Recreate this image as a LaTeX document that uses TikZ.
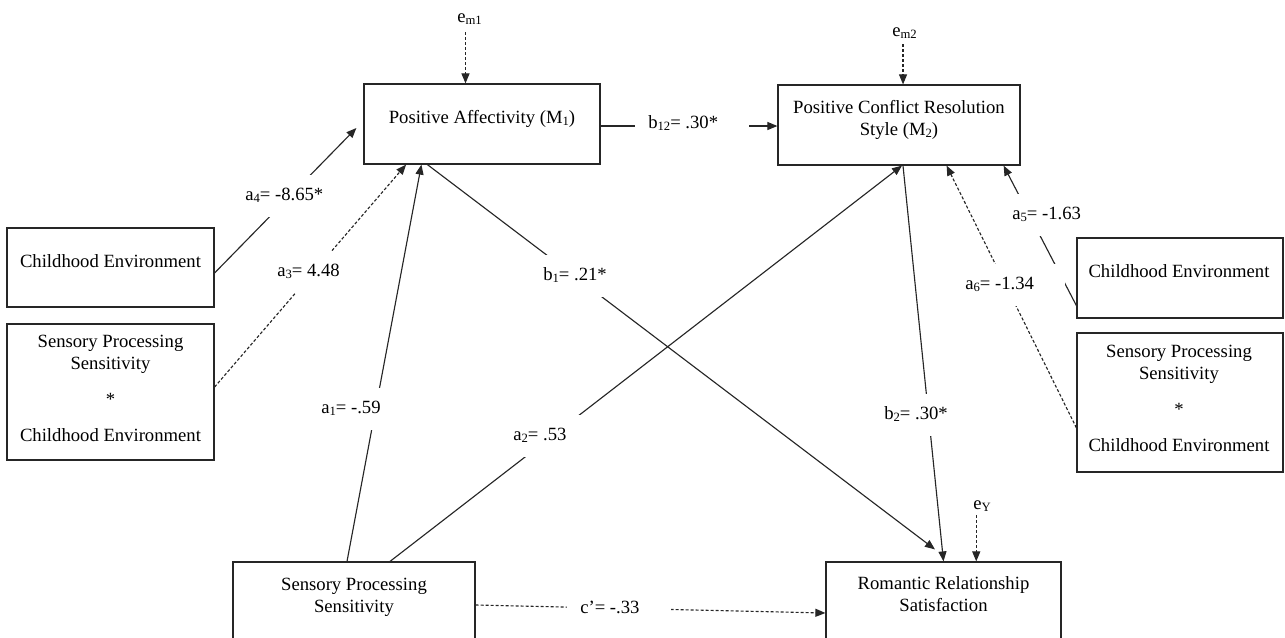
\documentclass[tikz,border=0pt]{standalone}
\usepackage{fontspec}
\setmainfont{Liberation Serif}
\usetikzlibrary{arrows.meta}
% small lowered index, as in M1, a4, e_m1
\newcommand\lowsub[1]{\raisebox{-1.6pt}{\fontsize{9.5}{10}\selectfont #1}}
% coefficient text with the white padding that breaks the path under it
\newcommand\coefpad[1]{\rule[-12.75pt]{0pt}{31.5pt}\hspace*{9.75pt}#1\hspace*{23.25pt}}
\begin{document}
\begin{tikzpicture}[x=0.75pt, y=-0.75pt,
  every node/.style={font=\fontsize{14}{16.5}\selectfont, inner sep=0pt},
  box/.style={draw=black!85, line width=0.9pt, minimum height=60pt},
  txt/.style={align=center},
  conn/.style={draw=black!85, line width=0.85pt},
  arr/.style={conn, -{Triangle[length=7.5pt,width=6pt]}},
  dsh/.style={dash pattern=on 2.25pt off 1.5pt},
  coef/.style={fill=white, anchor=base west}
]
\useasboundingbox (0,0) rectangle (1285,637);
\clip (0,0) rectangle (1285,637);

% variable boxes
\node[box, minimum width=177pt] (m1) at (482,124) {};
\node[box, minimum width=181.5pt] (m2) at (899,125) {};
\node[box, minimum width=155.25pt, minimum height=59.25pt] (cel) at (110.5,267.5) {};
\node[box, minimum width=155.25pt, minimum height=102pt] (scl) at (110.5,392) {};
\node[box, minimum width=154.5pt] (cer) at (1180,278) {};
\node[box, minimum width=154.5pt, minimum height=104.25pt] (scr) at (1180,402.5) {};
\node[box, minimum width=181.5pt] (sps) at (354,602) {};
\node[box, minimum width=176.25pt] (rrs) at (943.5,602) {};

% box texts
\node[anchor=base] (m1t) at (482,123) {Positive Affectivity (M\lowsub{1})};
\node[txt] (m2t) at (899,119.6) {Positive Conflict Resolution\\Style (M\lowsub{2})};
\node[anchor=base] (celt) at (110.5,267) {Childhood Environment};
\node[txt] (sclt) at (110.5,388.6) {Sensory Processing\\Sensitivity\\[10.5pt]*\\[10.5pt]Childhood Environment};
\node[anchor=base] (cert) at (1179,277) {Childhood Environment};
\node[txt] (scrt) at (1179,398.6) {Sensory Processing\\Sensitivity\\[10.5pt]*\\[10.5pt]Childhood Environment};
\node[txt] (spst) at (354,597.6) {Sensory Processing\\Sensitivity};
\node[txt] (rrst) at (943.5,594.6) {Romantic Relationship\\Satisfaction};

% error terms
\node[anchor=base west] (em1) at (457,22) {e\lowsub{m1}};
\node[anchor=base west] (em2) at (892,36) {e\lowsub{m2}};
\node[anchor=base west] (ey) at (973,509) {e\lowsub{Y}};
\draw[arr,dsh] ([xshift=-3pt,yshift=-6pt]em1.south) -- ([xshift=-3pt]em1.south |- m1.north);
\draw[arr,dsh] ([xshift=-1.1pt,yshift=-4.5pt]em2.south) -- ([xshift=-1.1pt]em2.south |- m2.north);
\draw[arr,dsh] ([xshift=-4.3pt,yshift=-3pt]ey.south) -- ([xshift=-4.3pt]ey.south |- rrs.north);

% paths
\draw[arr] ([yshift=-4.1pt]cel.east) -- ([xshift=-5.25pt,yshift=-3pt]m1.west);       % a4
\draw[arr,dsh] ([yshift=3.75pt]scl.east) -- ([xshift=32pt]m1.south west);             % a3
\draw[arr] ([xshift=-5.25pt]sps.north) -- ([xshift=43.5pt]m1.south west);             % a1
\draw[arr] ([xshift=27pt]sps.north) -- ([xshift=2.25pt]m2.south);                     % a2
\draw[arr] ([xshift=48pt]m1.south west) -- ([xshift=-6.4pt,yshift=9pt]rrs.north);     % b1
\draw[arr] ([yshift=-1.5pt]m1.east) -- ([yshift=-0.75pt]m2.west);                     % b12
\draw[arr] ([xshift=3pt]m2.south) -- (rrs.north);                                     % b2
\draw[arr] ([yshift=9.75pt]cer.south west) -- ([xshift=-12.75pt]m2.south east);       % a5
\draw[arr,dsh] ([yshift=-19pt]scr.west) -- ([xshift=-55.5pt]m2.south east);           % a6
\draw[arr,dsh] ([yshift=-2.25pt]sps.east) -- ([yshift=-8.25pt]rrs.west);              % c'

% coefficients
\node[coef] (la4) at (232,200) {\coefpad{a\lowsub{4}= -8.65*}};
\node[coef] (la3) at (264,276) {\coefpad{a\lowsub{3}= 4.48}};
\node[coef] (la1) at (308,413) {\coefpad{a\lowsub{1}= -.59}};
\node[coef] (la2) at (500,440) {\coefpad{a\lowsub{2}= .53}};
\node[coef] (lb1) at (530,280) {\coefpad{b\lowsub{1}= .21*}};
\node[coef] (lb12) at (635,128) {\coefpad{b\lowsub{12}= .30*}};
\node[coef] (lb2) at (871,419) {\coefpad{b\lowsub{2}= .30*}};
\node[coef] (la5) at (999,219) {\coefpad{a\lowsub{5}= -1.63}};
\node[coef] (la6) at (952,289) {\coefpad{a\lowsub{6}= -1.34}};
\node[coef] (lc) at (567,613) {\coefpad{c’= -.33}};
\end{tikzpicture}
\end{document}
